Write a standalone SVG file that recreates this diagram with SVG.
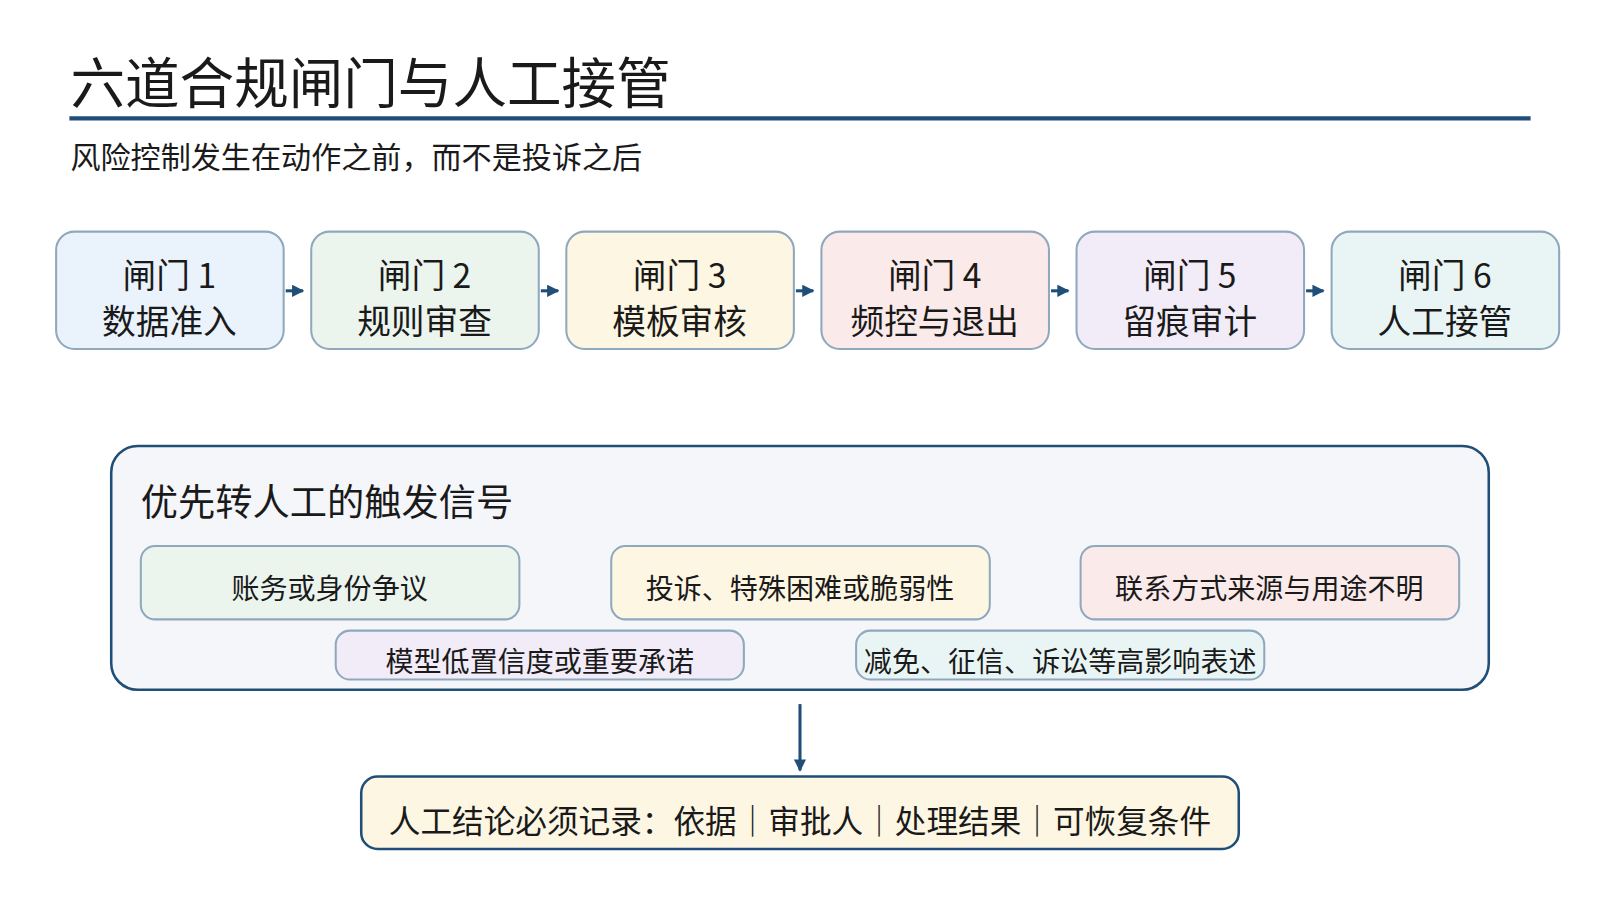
<svg xmlns="http://www.w3.org/2000/svg" width="1600" height="900" viewBox="0 0 1600 900">
<defs>
<style>
text{font-family:"Noto Sans CJK SC","Noto Sans",sans-serif;fill:#1a1a1a}
.g{stroke:#8fa8bd;stroke-width:2}
.gt{font-size:33px;text-anchor:middle}
.st{font-size:27.5px;text-anchor:middle}
.c{stroke:#1f4e79;stroke-width:3;fill:none}
</style>
<marker id="a" viewBox="0 0 10 10" refX="9" refY="5" markerWidth="4" markerHeight="4" orient="auto"><path d="M0,0L10,5L0,10z" fill="#1f4e79"/></marker>
</defs>
<rect width="1600" height="900" fill="#fff"/>
<g transform="scale(1.0204)">
<text x="69" y="101" font-size="53.5">六道合规闸门与人工接管</text>
<line x1="68" y1="116" x2="1500" y2="116" stroke="#1f4e79" stroke-width="4"/>
<text x="69" y="165" font-size="29.5">风险控制发生在动作之前，而不是投诉之后</text>
<g id="gate1"><rect class="g" x="55" y="227" width="223" height="115" rx="18" fill="#eaf2fb"/><text class="gt" x="166" y="282">闸门 1</text><text class="gt" x="166" y="327">数据准入</text></g>
<g id="gate2"><rect class="g" x="305" y="227" width="223" height="115" rx="18" fill="#ebf5ee"/><text class="gt" x="416" y="282">闸门 2</text><text class="gt" x="416" y="327">规则审查</text></g>
<g id="gate3"><rect class="g" x="555" y="227" width="223" height="115" rx="18" fill="#fdf6e3"/><text class="gt" x="666" y="282">闸门 3</text><text class="gt" x="666" y="327">模板审核</text></g>
<g id="gate4"><rect class="g" x="805" y="227" width="223" height="115" rx="18" fill="#fbeaea"/><text class="gt" x="916" y="282">闸门 4</text><text class="gt" x="916" y="327">频控与退出</text></g>
<g id="gate5"><rect class="g" x="1055" y="227" width="223" height="115" rx="18" fill="#f1ecf8"/><text class="gt" x="1166" y="282">闸门 5</text><text class="gt" x="1166" y="327">留痕审计</text></g>
<g id="gate6"><rect class="g" x="1305" y="227" width="223" height="115" rx="18" fill="#e9f5f4"/><text class="gt" x="1416" y="282">闸门 6</text><text class="gt" x="1416" y="327">人工接管</text></g>
<g id="panel"><rect x="109" y="437" width="1350" height="239" rx="26" fill="#f4f6f9" stroke="#1f4e79" stroke-width="2.5"/><text x="138" y="506" font-size="36.5">优先转人工的触发信号</text></g>
<g id="s1"><rect class="g" x="138" y="535" width="371" height="72" rx="14" fill="#ebf5ee"/><text class="st" x="323" y="587">账务或身份争议</text></g>
<g id="s2"><rect class="g" x="599" y="535" width="371" height="72" rx="14" fill="#fdf6e3"/><text class="st" x="784" y="587">投诉、特殊困难或脆弱性</text></g>
<g id="s3"><rect class="g" x="1059" y="535" width="371" height="72" rx="14" fill="#fbeaea"/><text class="st" x="1244" y="587">联系方式来源与用途不明</text></g>
<g id="s4"><rect class="g" x="329" y="618" width="400" height="48" rx="14" fill="#f1ecf8"/><text class="st" x="529" y="659">模型低置信度或重要承诺</text></g>
<g id="s5"><rect class="g" x="839" y="618" width="400" height="48" rx="14" fill="#e9f5f4"/><text class="st" x="1039" y="659">减免、征信、诉讼等高影响表述</text></g>
<g id="outcome"><rect x="354" y="761" width="860" height="71" rx="16" fill="#fdf6e3" stroke="#1f4e79" stroke-width="2.5"/><text x="784" y="816" font-size="31" text-anchor="middle">人工结论必须记录：依据｜审批人｜处理结果｜可恢复条件</text></g>
<g id="connectors">
<line class="c" x1="280" y1="285" x2="297" y2="285" marker-end="url(#a)"/>
<line class="c" x1="530" y1="285" x2="547" y2="285" marker-end="url(#a)"/>
<line class="c" x1="780" y1="285" x2="797" y2="285" marker-end="url(#a)"/>
<line class="c" x1="1030" y1="285" x2="1047" y2="285" marker-end="url(#a)"/>
<line class="c" x1="1280" y1="285" x2="1297" y2="285" marker-end="url(#a)"/>
<line class="c" x1="784" y1="690" x2="784" y2="755" marker-end="url(#a)"/>
</g>
</g>
</svg>
